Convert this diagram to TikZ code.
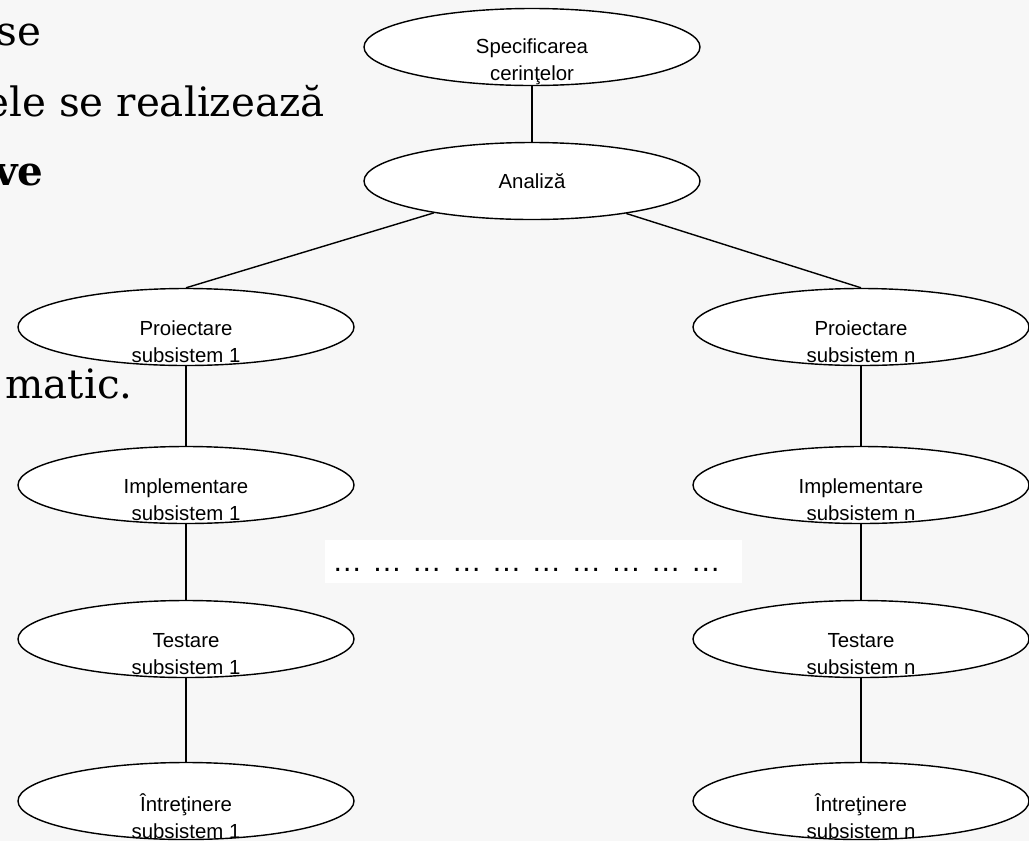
\documentclass[tikz,border=0pt]{standalone}
\usepackage{fontspec}
\newfontfamily\arialfont{Liberation Sans}
\newfontfamily\slidefont{DejaVu Serif}
\usetikzlibrary{shapes.geometric,positioning}
\tikzset{
  phase/.style={
    ellipse,
    draw,
    fill=white,
    line width=0.8pt,
    minimum width=6.72cm,
    minimum height=1.54cm,
    inner sep=0pt,
  },
  phase text/.style={
    align=center,
    inner sep=0pt,
    yshift=-0.3cm,
    font=\arialfont\fontsize{11.6}{15.3}\selectfont,
  },
  slide text/.style={
    anchor=base east,
    inner sep=0pt,
    font=\slidefont\fontsize{23}{28}\selectfont,
  },
  link/.style={line width=0.8pt},
}

\begin{document}
\begin{tikzpicture}
    \fill [black!3] (0,0) rectangle (20.58,-16.82);
    \useasboundingbox (0,0) rectangle (20.58,-16.82);
    \clip (0,0) rectangle (20.58,-16.82);

    % cut-off slide text on the left
    \node [slide text] (line1) at (0.84,-0.9) {se};
    \node [slide text] (line2) at (6.5,-2.32) {ele se realizează};
    \node [slide text] (line3) at (0.88,-3.7) {\bfseries ve};
    \node [slide text] (line4) at (2.66,-7.96) {matic.};

    % phases
    \node [phase] (spec) at (10.64,-0.94) {};
    \node [phase] (anal) at (10.64,-3.62) {};
    \node [phase] (proi1) at (3.72,-6.54) {};
    \node [phase] (proin) at (17.22,-6.54) {};
    \node [phase] (impl1) at (3.72,-9.7) {};
    \node [phase] (impln) at (17.22,-9.7) {};
    \node [phase] (test1) at (3.72,-12.78) {};
    \node [phase] (testn) at (17.22,-12.78) {};
    \node [phase] (intr1) at (3.72,-16.02) {};
    \node [phase] (intrn) at (17.22,-16.02) {};

    \node [phase text] (spec t) at (spec) {Specificarea\\cerinţelor};
    \node [phase text, yshift=0.3cm] (anal t) at (anal) {Analiză};
    \node [phase text] (proi1 t) at (proi1) {Proiectare\\subsistem 1};
    \node [phase text] (proin t) at (proin) {Proiectare\\subsistem n};
    \node [phase text] (impl1 t) at (impl1) {Implementare\\subsistem 1};
    \node [phase text] (impln t) at (impln) {Implementare\\subsistem n};
    \node [phase text] (test1 t) at (test1) {Testare\\subsistem 1};
    \node [phase text] (testn t) at (testn) {Testare\\subsistem n};
    \node [phase text] (intr1 t) at (intr1) {Întreţinere\\subsistem 1};
    \node [phase text] (intrn t) at (intrn) {Întreţinere\\subsistem n};

    \node [anchor=west, fill=white, inner xsep=0.14cm, text width=8.06cm,
           minimum height=0.86cm, text height=14pt, text depth=3.2pt,
           font=\arialfont\fontsize{17}{20}\selectfont]
          (gap) at (6.5,-11.23) {\mbox{… … … … … … … … … …}};

    % connections
    \draw [link] (spec) -- (anal);
    \draw [link] (anal.198) -- (proi1.north);
    \draw [link] (anal.341) -- (proin.north);
    \draw [link] (proi1) -- (impl1);
    \draw [link] (impl1) -- (test1);
    \draw [link] (test1) -- (intr1);
    \draw [link] (proin) -- (impln);
    \draw [link] (impln) -- (testn);
    \draw [link] (testn) -- (intrn);
\end{tikzpicture}
\end{document}
